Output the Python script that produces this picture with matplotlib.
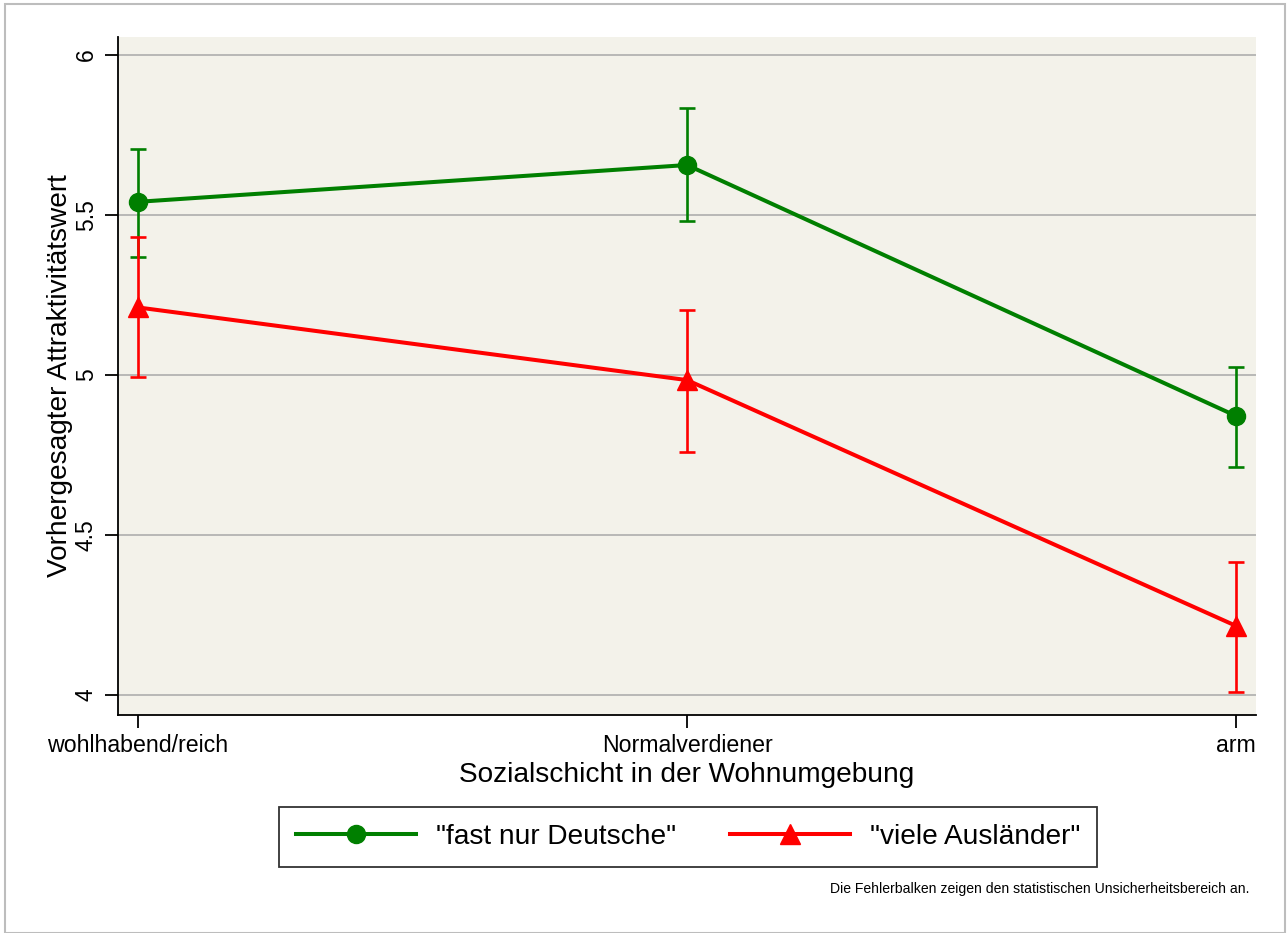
import matplotlib
matplotlib.use("Agg")
import matplotlib.pyplot as plt
from matplotlib.patches import Rectangle
from matplotlib.lines import Line2D

plt.rcParams['font.family'] = ['Liberation Sans', 'DejaVu Sans']

categories = ["wohlhabend/reich", "Normalverdiener", "arm"]
series_names = ['"fast nur Deutsche"', '"viele Ausländer"']
deutsche = [5.541, 5.656, 4.872]
deutsche_lo = [5.369, 5.481, 4.713]
deutsche_hi = [5.706, 5.834, 5.025]
auslaender = [5.211, 4.984, 4.216]
auslaender_lo = [4.994, 4.759, 4.009]
auslaender_hi = [5.431, 5.203, 4.416]
yticks = [4, 4.5, 5, 5.5, 6]
ytick_labels = ["4", "4.5", "5", "5.5", "6"]

W, H = 1287, 933
fig = plt.figure(figsize=(W / 100, H / 100), dpi=100)
fig.patch.set_facecolor("white")

# outer border
fig.patches.append(Rectangle((5 / W, 0), (1285 - 5) / W, 1 - 4 / H, transform=fig.transFigure,
                             fill=False, edgecolor="#BDBDBD", linewidth=1.5))

ax = fig.add_axes([118 / W, 1 - 715 / H, (1256 - 118) / W, (715 - 37) / H])
ax.set_facecolor("#F3F2EA")

x = list(range(len(categories)))
GREEN = "#007F00"
RED = "#FF0000"

def draw(vals, lo, hi, color, marker, ms):
    yerr = [[v - l for v, l in zip(vals, lo)], [h - v for v, h in zip(vals, hi)]]
    ax.errorbar(x, vals, yerr=yerr, fmt="none", ecolor=color, elinewidth=1.9,
                capsize=6, capthick=1.9, zorder=3)
    ax.plot(x, vals, color=color, linewidth=2.9, marker=marker, markersize=ms,
            markeredgecolor=color, markerfacecolor=color, zorder=4)

draw(deutsche, deutsche_lo, deutsche_hi, GREEN, "o", 13)
draw(auslaender, auslaender_lo, auslaender_hi, RED, "^", 15)

ax.set_xlim(-0.0364, 2.0364)
ax.set_ylim(3.9375, 6.056)
ax.set_yticks(yticks)
ax.set_yticklabels(ytick_labels, rotation=90, va="center", fontsize=16.5)
ax.set_xticks(x)
ax.set_xticklabels(categories, fontsize=16.7)
ax.yaxis.grid(True, color="#A8A8A8", linewidth=1.1)
ax.set_axisbelow(True)
for s in ["top", "right"]:
    ax.spines[s].set_visible(False)
for s in ["left", "bottom"]:
    ax.spines[s].set_linewidth(1.3)
    ax.spines[s].set_color("black")
ax.tick_params(axis="y", length=9.5, width=1.3, pad=5)
ax.tick_params(axis="x", length=9, width=1.3, pad=5)

ax.set_xlabel("Sozialschicht in der Wohnumgebung", fontsize=20.2, labelpad=3)
ax.set_ylabel("Vorhergesagter Attraktivitätswert", fontsize=20.2, labelpad=1)

handles = [Line2D([], [], color=GREEN, linewidth=2.9, marker="o", markersize=13),
           Line2D([], [], color=RED, linewidth=2.9, marker="^", markersize=15)]
leg = fig.legend(handles, series_names, loc="center",
                 bbox_to_anchor=((277 + 1099) / 2 / W, 1 - 837 / H), ncol=2,
                 fontsize=20.2, frameon=True, fancybox=False, edgecolor="black",
                 handlelength=4.3, handletextpad=0.7, columnspacing=1.9,
                 borderpad=0.6, borderaxespad=0)
leg.get_frame().set_linewidth(1.3)

fig.text(1249 / W, 1 - 889 / H, "Die Fehlerbalken zeigen den statistischen Unsicherheitsbereich an.",
         ha="right", va="center", fontsize=10.1)

fig.savefig("out.png", dpi=100)
